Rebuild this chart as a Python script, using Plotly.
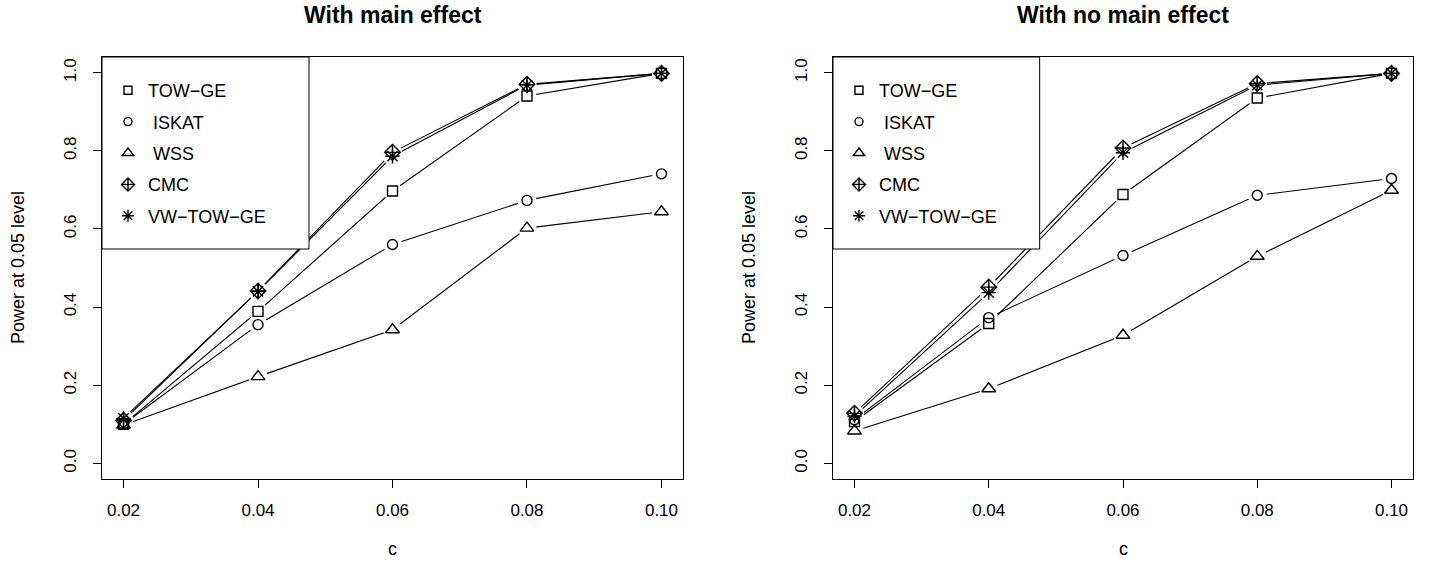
import plotly.graph_objects as go

# ---------------- data ----------------
c_vals = [0.02, 0.04, 0.06, 0.08, 0.10]
c_ticks = ["0.02", "0.04", "0.06", "0.08", "0.10"]
y_ticks = [0.0, 0.2, 0.4, 0.6, 0.8, 1.0]
y_ticktext = ["0.0", "0.2", "0.4", "0.6", "0.8", "1.0"]

methods = ["TOW\u2212GE", "\u00a0ISKAT", "\u00a0WSS", "CMC", "VW\u2212TOW\u2212GE"]

# With main effect
tow_ge_main = [0.100, 0.389, 0.697, 0.940, 0.998]
iskat_main = [0.100, 0.355, 0.560, 0.673, 0.741]
wss_main = [0.098, 0.222, 0.342, 0.602, 0.644]
cmc_main = [0.110, 0.441, 0.796, 0.970, 0.998]
vw_main = [0.115, 0.440, 0.786, 0.968, 0.998]

# With no main effect
tow_ge_no = [0.107, 0.358, 0.688, 0.935, 0.998]
iskat_no = [0.112, 0.373, 0.532, 0.686, 0.729]
wss_no = [0.083, 0.191, 0.328, 0.530, 0.699]
cmc_no = [0.128, 0.451, 0.807, 0.972, 0.998]
vw_no = [0.121, 0.437, 0.795, 0.968, 0.998]

panel_titles = ["With main effect", "With no main effect"]
y_title = "Power at 0.05 level"
x_title = "c"

# ---------------- styles ----------------
FONT = "Liberation Sans, Arial, sans-serif"
symbols = ["square-open", "circle-open", "triangle-up-open", "diamond-cross-open", "asterisk-open"]
sizes = [10, 10, 12, 12, 12]

W, H = 1429, 563


def px(x):
    return x / W


def py(y):
    return 1 - y / H


x_domains = [[px(102), px(683)], [px(833), px(1413)]]
y_domain = [py(479), py(57)]

panels = [
    [tow_ge_main, iskat_main, wss_main, cmc_main, vw_main],
    [tow_ge_no, iskat_no, wss_no, cmc_no, vw_no],
]

fig = go.Figure()

for p, series in enumerate(panels):
    xa = "x" if p == 0 else "x2"
    ya = "y" if p == 0 else "y2"
    # lines
    for s in series:
        fig.add_trace(go.Scatter(x=c_vals, y=s, mode="lines", xaxis=xa, yaxis=ya,
                                 line=dict(color="black", width=1.1),
                                 showlegend=False, hoverinfo="skip"))
    # white gaps around points (type = "b")
    for s in series:
        fig.add_trace(go.Scatter(x=c_vals, y=s, mode="markers", xaxis=xa, yaxis=ya,
                                 marker=dict(symbol="circle", size=19, color="white",
                                             line=dict(width=0)),
                                 showlegend=False, hoverinfo="skip"))
    # point symbols
    for s, sym, sz, name in zip(series, symbols, sizes, methods):
        fig.add_trace(go.Scatter(x=c_vals, y=s, mode="markers", xaxis=xa, yaxis=ya,
                                 marker=dict(symbol=sym, size=sz, color="black",
                                             line=dict(color="black", width=1.4)),
                                 name=name, showlegend=False))
    # legend entries
    for sym, sz, name in zip(symbols, sizes, methods):
        fig.add_trace(go.Scatter(x=[None], y=[None], mode="markers", xaxis=xa, yaxis=ya,
                                 marker=dict(symbol=sym, size=sz - 2, color="black",
                                             line=dict(color="black", width=1.4)),
                                 name=name, legendgroup=f"{name}{p}",
                                 legend="legend" if p == 0 else "legend2",
                                 showlegend=True))

axis_common = dict(showline=True, mirror=True, linecolor="black", linewidth=1,
                   ticks="outside", ticklen=8, tickcolor="black", tickwidth=1,
                   showgrid=False, zeroline=False,
                   tickfont=dict(family=FONT, size=17, color="black"))

legend_common = dict(font=dict(family=FONT, size=18, color="black"),
                     bgcolor="rgba(0,0,0,0)", borderwidth=0, tracegroupgap=5,
                     xanchor="left", yanchor="top", y=py(72),
                     itemclick=False)

fig.update_layout(
    width=W, height=H,
    margin=dict(l=0, r=0, t=0, b=0),
    paper_bgcolor="white", plot_bgcolor="white",
    font=dict(family=FONT, color="black"),
    xaxis=dict(domain=x_domains[0], range=[0.0168, 0.1032], tickvals=c_vals, ticktext=c_ticks,
               anchor="y", ticklabelstandoff=8, **axis_common),
    yaxis=dict(domain=y_domain, range=[-0.04, 1.04], tickvals=y_ticks, ticktext=y_ticktext,
               anchor="x", tickangle=-90, ticklabelstandoff=10, **axis_common),
    xaxis2=dict(domain=x_domains[1], range=[0.0168, 0.1032], tickvals=c_vals, ticktext=c_ticks,
                anchor="y2", ticklabelstandoff=8, **axis_common),
    yaxis2=dict(domain=y_domain, range=[-0.04, 1.04], tickvals=y_ticks, ticktext=y_ticktext,
                anchor="x2", tickangle=-90, ticklabelstandoff=10, **axis_common),
    legend=dict(x=px(108), **legend_common),
    legend2=dict(x=px(839), **legend_common),
    showlegend=True,
)

shapes = []
annotations = []
for p in range(2):
    suffix = "" if p == 0 else "2"
    shapes.append(dict(type="rect", xref=f"x{suffix} domain", yref=f"y{suffix} domain",
                       x0=0, x1=207 / 581, y0=(479 - 249) / 422, y1=1,
                       fillcolor="white", line=dict(color="black", width=1), layer="above"))
    xc = (x_domains[p][0] + x_domains[p][1]) / 2
    annotations.append(dict(text=f"<b>{panel_titles[p]}</b>", xref="paper", yref="paper",
                            x=xc, y=py(15), xanchor="center", yanchor="middle",
                            showarrow=False, font=dict(family=FONT, size=23, color="black")))
    annotations.append(dict(text=x_title, xref="paper", yref="paper",
                            x=xc, y=py(549), xanchor="center", yanchor="middle",
                            showarrow=False, font=dict(family=FONT, size=18, color="black")))
    left_px = 102 if p == 0 else 833
    annotations.append(dict(text=y_title, xref="paper", yref="paper",
                            x=px(left_px - 84), y=(y_domain[0] + y_domain[1]) / 2,
                            xanchor="center", yanchor="middle", textangle=-90,
                            showarrow=False, font=dict(family=FONT, size=18, color="black")))

fig.update_layout(shapes=shapes, annotations=annotations)

# remove the default 8px page margin so the figure fills the window exactly
fig.write_html("out.html",
               config={"displayModeBar": False},
               post_script="document.body.style.margin='0';document.body.style.overflow='hidden';")
